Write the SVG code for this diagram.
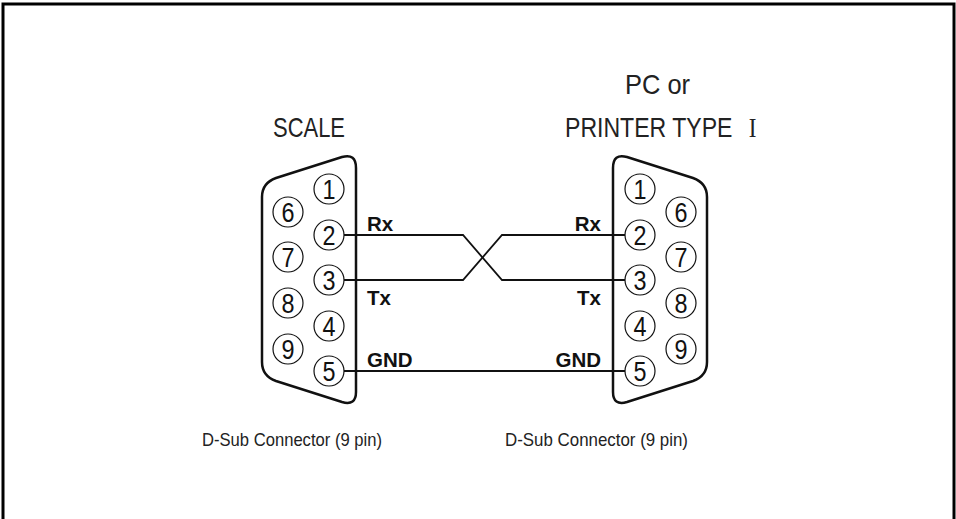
<svg xmlns="http://www.w3.org/2000/svg" width="956" height="519" viewBox="0 0 956 519">
<style>
.frame{fill:none;stroke:#000;stroke-width:3}
.shell{fill:none;stroke:#111;stroke-width:2.5;stroke-linejoin:round}
.pin{fill:none;stroke:#111;stroke-width:1.2}
.num{font-family:"Liberation Sans",Arial,sans-serif;font-size:28px;fill:#111;text-anchor:middle}
.wire{fill:none;stroke:#111;stroke-width:1.8}
.sig{font-family:"Liberation Sans",Arial,sans-serif;font-size:20.5px;font-weight:bold;fill:#111}
.title{font-family:"Liberation Sans",Arial,sans-serif;font-size:28px;fill:#222}
.cap{font-family:"Liberation Sans",Arial,sans-serif;font-size:19px;fill:#222}
</style>
<defs>
<path id="shell" d="M 262 197 Q 262 183 276 178 L 342 157 Q 356 153 356 168 L 356 392 Q 356 406 342 402 L 276 381 Q 262 376 262 362 Z"/>
</defs>
<rect class="frame" x="3" y="4" width="951" height="540"/>

<g id="scale">
<text class="title" x="273" y="137" textLength="72" lengthAdjust="spacingAndGlyphs">SCALE</text>
<use href="#shell" class="shell"/>
<circle class="pin" cx="329" cy="189" r="15"/><text class="num" x="329" y="199" textLength="13" lengthAdjust="spacingAndGlyphs">1</text>
<circle class="pin" cx="329" cy="235" r="15"/><text class="num" x="329" y="245" textLength="13" lengthAdjust="spacingAndGlyphs">2</text>
<circle class="pin" cx="329" cy="280" r="15"/><text class="num" x="329" y="290" textLength="13" lengthAdjust="spacingAndGlyphs">3</text>
<circle class="pin" cx="329" cy="326" r="15"/><text class="num" x="329" y="336" textLength="13" lengthAdjust="spacingAndGlyphs">4</text>
<circle class="pin" cx="329" cy="371" r="15"/><text class="num" x="329" y="381" textLength="13" lengthAdjust="spacingAndGlyphs">5</text>
<circle class="pin" cx="288" cy="212" r="15"/><text class="num" x="288" y="222" textLength="13" lengthAdjust="spacingAndGlyphs">6</text>
<circle class="pin" cx="288" cy="257" r="15"/><text class="num" x="288" y="267" textLength="13" lengthAdjust="spacingAndGlyphs">7</text>
<circle class="pin" cx="288" cy="303" r="15"/><text class="num" x="288" y="313" textLength="13" lengthAdjust="spacingAndGlyphs">8</text>
<circle class="pin" cx="288" cy="349" r="15"/><text class="num" x="288" y="359" textLength="13" lengthAdjust="spacingAndGlyphs">9</text>
<text class="sig" x="367" y="231">Rx</text>
<text class="sig" x="367" y="305">Tx</text>
<text class="sig" x="367" y="367">GND</text>
<text class="cap" x="202" y="446" textLength="180" lengthAdjust="spacingAndGlyphs">D-Sub Connector (9 pin)</text>
</g>

<g id="pc">
<text class="title" x="625" y="94" textLength="65" lengthAdjust="spacingAndGlyphs">PC or</text>
<text class="title" transform="translate(565,137) scale(0.824,1)">PRINTER TYPE <tspan x="223" style="font-family:'Liberation Serif','Times New Roman',serif">I</tspan></text>
<use href="#shell" class="shell" transform="translate(969,0) scale(-1,1)"/>
<circle class="pin" cx="640" cy="189" r="15"/><text class="num" x="640" y="199" textLength="13" lengthAdjust="spacingAndGlyphs">1</text>
<circle class="pin" cx="640" cy="235" r="15"/><text class="num" x="640" y="245" textLength="13" lengthAdjust="spacingAndGlyphs">2</text>
<circle class="pin" cx="640" cy="280" r="15"/><text class="num" x="640" y="290" textLength="13" lengthAdjust="spacingAndGlyphs">3</text>
<circle class="pin" cx="640" cy="326" r="15"/><text class="num" x="640" y="336" textLength="13" lengthAdjust="spacingAndGlyphs">4</text>
<circle class="pin" cx="640" cy="371" r="15"/><text class="num" x="640" y="381" textLength="13" lengthAdjust="spacingAndGlyphs">5</text>
<circle class="pin" cx="681" cy="212" r="15"/><text class="num" x="681" y="222" textLength="13" lengthAdjust="spacingAndGlyphs">6</text>
<circle class="pin" cx="681" cy="257" r="15"/><text class="num" x="681" y="267" textLength="13" lengthAdjust="spacingAndGlyphs">7</text>
<circle class="pin" cx="681" cy="303" r="15"/><text class="num" x="681" y="313" textLength="13" lengthAdjust="spacingAndGlyphs">8</text>
<circle class="pin" cx="681" cy="349" r="15"/><text class="num" x="681" y="359" textLength="13" lengthAdjust="spacingAndGlyphs">9</text>
<text class="sig" x="601" y="231" text-anchor="end">Rx</text>
<text class="sig" x="601" y="305" text-anchor="end">Tx</text>
<text class="sig" x="601" y="367" text-anchor="end">GND</text>
<text class="cap" x="505" y="446" textLength="183" lengthAdjust="spacingAndGlyphs">D-Sub Connector (9 pin)</text>
</g>

<g id="wires">
<polyline class="wire" points="344,235 463,235 502,280 625,280"/>
<polyline class="wire" points="344,280 463,280 502,235 625,235"/>
<line class="wire" x1="344" y1="371" x2="625" y2="371"/>
</g>
</svg>
